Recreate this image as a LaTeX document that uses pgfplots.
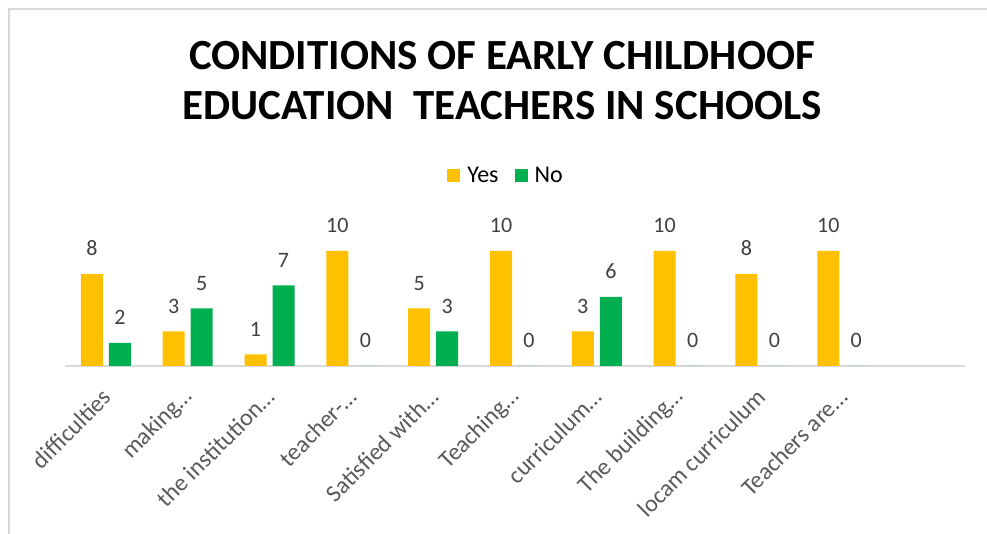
\documentclass[border=0pt]{standalone}
\usepackage{pgfplots}
\pgfplotsset{compat=1.18}
\usepackage{fontspec}
\setmainfont{Carlito}

\definecolor{yescol}{HTML}{FFC000}
\definecolor{nocol}{HTML}{00B050}
\definecolor{axgray}{HTML}{D9D9D9}
\definecolor{lblgray}{HTML}{595959}
\definecolor{valgray}{HTML}{404040}

\begin{document}
\begin{tikzpicture}[x=1bp,y=1bp]
\useasboundingbox (0bp,0bp) rectangle (987bp,534bp);
% chart frame (top and left edges visible)
\draw[axgray, line width=1.5bp] (9bp,0bp) -- (9bp,525bp) -- (987bp,525bp);

% title
\node[anchor=base, font=\fontsize{43bp}{50bp}\selectfont\bfseries] at (502bp,464bp) {CONDITIONS OF EARLY CHILDHOOF};
\node[anchor=base, font=\fontsize{43bp}{50bp}\selectfont\bfseries] at (502bp,414bp) {EDUCATION\ \ TEACHERS IN SCHOOLS};

\begin{axis}[
    at={(65bp,168bp)}, anchor=south west,
    scale only axis,
    width=900bp, height=115bp,
    xmin=-0.5, xmax=10.5,
    ymin=0, ymax=10,
    ybar=6bp,
    bar width=22bp,
    axis y line=none,
    axis x line=bottom,
    axis line style={-, axgray, line width=2bp},
    xtick={0,...,9},
    xticklabels={difficulties, making\ldots, the institution\ldots, teacher-\ldots, Satisfied with\ldots, Teaching\ldots, curriculum\ldots, The building\ldots, locam curriculum, Teachers are\ldots},
    xtick style={draw=none},
    xticklabel style={xshift=1bp, yshift=-25bp, rotate=45, anchor=east, inner sep=0pt,
        font=\fontsize{24bp}{28bp}\selectfont, text=lblgray},
    nodes near coords,
    every node near coord/.append style={anchor=base, inner sep=0pt, yshift=18bp,
        font=\fontsize{22bp}{26bp}\selectfont, text=valgray,
        /pgf/number format/assume math mode=true},
    clip=false,
    legend columns=2,
    legend style={at={(0.49,1)}, anchor=center, yshift=75bp, draw=none, fill=none,
        font=\fontsize{24bp}{28bp}\selectfont, text=black,
        /tikz/every odd column/.append style={column sep=5bp},
        /tikz/every even column/.append style={column sep=14bp}},
    legend image code/.code={\fill[#1] (0bp,-6.5bp) rectangle (13bp,6.5bp);},
]
\addplot[fill=yescol, draw=none] coordinates {
    (0,8) (1,3) (2,1) (3,10) (4,5) (5,10) (6,3) (7,10) (8,8) (9,10)
};
\addplot[fill=nocol, draw=none] coordinates {
    (0,2) (1,5) (2,7) (3,0) (4,3) (5,0) (6,6) (7,0) (8,0) (9,0)
};
\legend{Yes, No}
\end{axis}
\end{tikzpicture}
\end{document}
